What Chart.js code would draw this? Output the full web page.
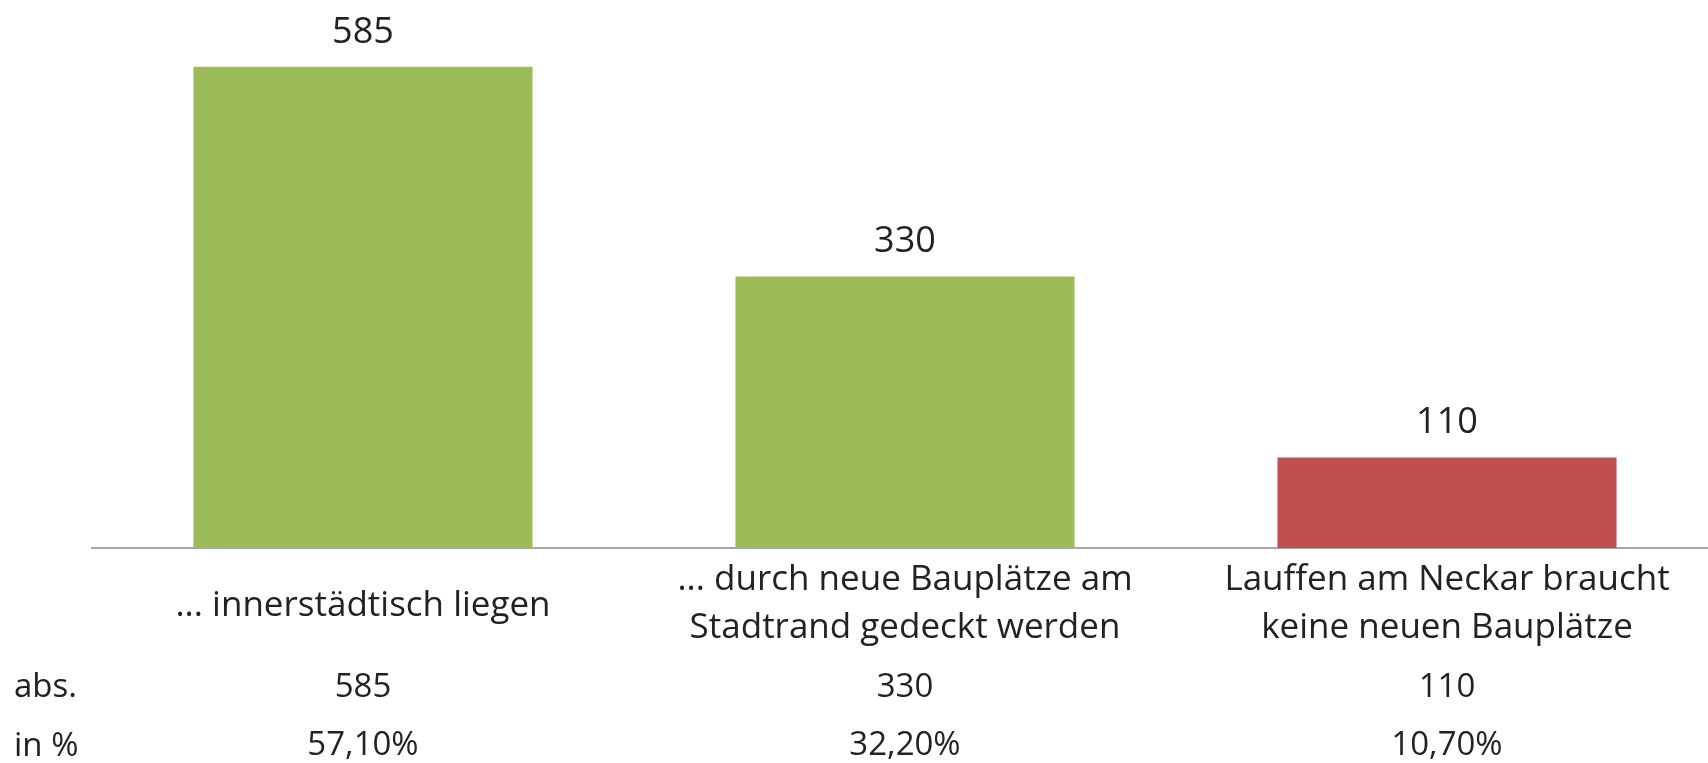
<!DOCTYPE html>
<html>
<head>
<meta charset="utf-8">
<script src="https://cdn.jsdelivr.net/npm/chart.js@4/dist/chart.umd.min.js"></script>
<style>
  html, body { margin: 0; padding: 0; background: #ffffff; overflow: hidden; }
  #wrap { position: relative; width: 1720px; height: 763px; }
</style>
</head>
<body>
<div id="wrap"><canvas id="c"></canvas></div>
<script>
// ---- data ----
const categories = [
  ["... innerstädtisch liegen"],
  ["... durch neue Bauplätze am", "Stadtrand gedeckt werden"],
  ["Lauffen am Neckar braucht", "keine neuen Bauplätze"]
];
const absValues = [585, 330, 110];
const pctLabels = ["57,10%", "32,20%", "10,70%"];
const rowLabels = ["abs.", "in %"];
const barColors = ["#9BBB59", "#9BBB59", "#C0504D"];

const FONT = "'Open Sans', 'Noto Sans', sans-serif";
const TEXT = "#222222";

const labelPlugin = {
  id: 'labels',
  afterDatasetsDraw(chart) {
    const ctx = chart.ctx;
    const xs = chart.scales.x;
    const area = chart.chartArea;
    const meta = chart.getDatasetMeta(0);
    ctx.save();
    ctx.fillStyle = TEXT;
    ctx.textAlign = 'center';
    ctx.textBaseline = 'alphabetic';
    // value labels above bars
    ctx.font = "36px " + FONT;
    meta.data.forEach((el, i) => {
      ctx.fillText(String(absValues[i]), el.x, el.y - 24);
    });
    // category labels
    ctx.font = "35px " + FONT;
    const b = area.bottom;
    categories.forEach((lines, i) => {
      const x = xs.getPixelForValue(i);
      if (lines.length === 1) {
        ctx.fillText(lines[0], x, b + 68);
      } else {
        ctx.fillText(lines[0], x, b + 42);
        ctx.fillText(lines[1], x, b + 90);
      }
    });
    // table rows
    ctx.font = "33px " + FONT;
    absValues.forEach((v, i) => {
      const x = xs.getPixelForValue(i);
      ctx.fillText(String(v), x, b + 149);
      ctx.fillText(pctLabels[i], x, b + 207);
    });
    ctx.textAlign = 'left';
    ctx.fillText(rowLabels[0], 14, b + 149);
    ctx.fillText(rowLabels[1], 14, b + 208);
    ctx.restore();
  }
};

new Chart(document.getElementById('c'), {
  type: 'bar',
  data: {
    labels: categories,
    datasets: [{
      data: absValues,
      backgroundColor: barColors,
      borderWidth: 0,
      barPercentage: 0.6256,
      categoryPercentage: 1.0
    }]
  },
  options: {
    responsive: true,
    maintainAspectRatio: false,
    animation: false,
    layout: { padding: { left: 92, right: 2, top: 0, bottom: 215 } },
    plugins: { legend: { display: false }, tooltip: { enabled: false } },
    scales: {
      x: {
        display: true,
        grid: { display: false, drawTicks: false },
        ticks: { display: false },
        border: { display: true, color: '#A6A6A6', width: 2 }
      },
      y: {
        display: false,
        min: 0,
        max: 666
      }
    }
  },
  plugins: [labelPlugin]
});
</script>
</body>
</html>
